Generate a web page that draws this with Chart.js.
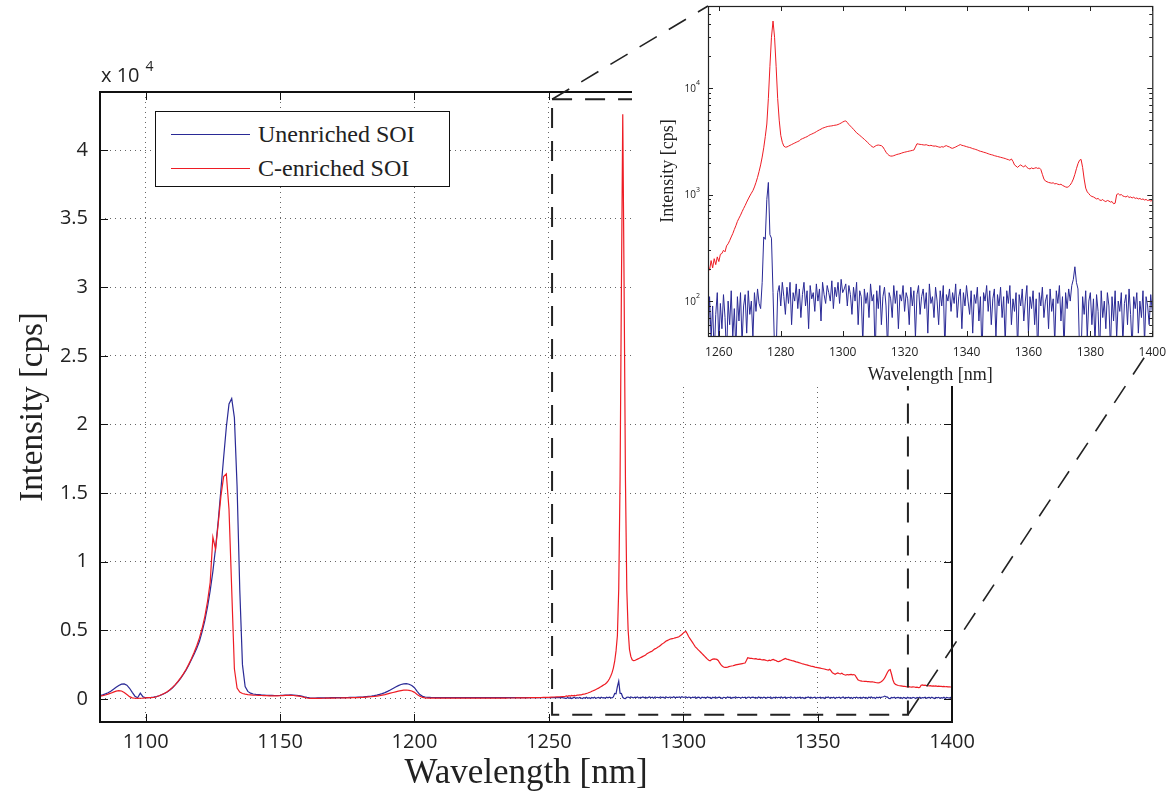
<!DOCTYPE html>
<html>
<head>
<meta charset="utf-8">
<script src="https://cdn.jsdelivr.net/npm/chart.js@4.4.1/dist/chart.umd.min.js"></script>
<style>
  html, body { margin: 0; padding: 0; background: #fff; }
  #wrap { position: relative; width: 1175px; height: 797px; overflow: hidden; }
  #mainCanvas { position: absolute; left: 0; top: 0; }
  #insetBox { position: absolute; left: 632px; top: 0; width: 543px; height: 386px; background: #fff; }
  #overlay { position: absolute; left: 0; top: 0; pointer-events: none; }
  .legend {
    position: absolute; left: 155px; top: 111px; width: 293px; height: 74px;
    border: 1.5px solid #111; background: #fff;
    font-family: "Liberation Serif", "Times New Roman", serif; font-size: 24px; color: #222;
  }
  .legend .row { position: absolute; left: 0; height: 30px; line-height: 30px; }
  .legend .swatch { position: absolute; left: 15px; top: 15px; width: 79px; height: 0; border-top: 1.5px solid; }
  .legend .txt { position: absolute; left: 102px; top: 0; white-space: nowrap; }
</style>
</head>
<body>
<div id="wrap">
  <canvas id="mainCanvas" width="1175" height="797"></canvas>
  <div class="legend">
    <div class="row" style="top:7px"><span class="swatch" style="border-color:#2a2a96"></span><span class="txt">Unenriched SOI</span></div>
    <div class="row" style="top:41px"><span class="swatch" style="border-color:#ee1c24"></span><span class="txt">C-enriched SOI</span></div>
  </div>
  <div id="insetBox"><canvas id="insetCanvas" width="543" height="386"></canvas></div>
  <svg id="overlay" width="1175" height="797"></svg>
</div>
<script>
// Spectra, sampled on the spectrometer grid.
// Low range: 1083..1255 nm every 1 nm (main plot only)
const lowStart = 1083, lowStep = 1;
const blueLow = [
  250, 300, 370, 450, 560, 700, 850, 980, 1080, 1100,
  1000, 780, 480, 200, 90, 420, 150, 90, 100, 110,
  130, 170, 230, 310, 400, 510, 650, 820, 1020, 1250,
  1500, 1780, 2100, 2450, 2850, 3250, 3700, 4200, 4900, 5700,
  6700, 7900, 9300, 11000, 13000, 15300, 17600, 19800, 21500, 21900,
  20500, 15500, 8000, 2500, 900, 550, 420, 360, 330, 310,
  290, 280, 270, 260, 255, 250, 250, 255, 265, 275,
  285, 290, 285, 270, 240, 200, 150, 110, 80, 70,
  70, 75, 80, 80, 85, 85, 90, 90, 95, 95,
  100, 100, 105, 110, 115, 120, 130, 140, 150, 170,
  190, 210, 240, 280, 330, 390, 460, 550, 650, 760,
  870, 970, 1050, 1100, 1110, 1070, 980, 820, 560, 320,
  190, 140, 120, 110, 105, 100, 100, 100, 95, 95,
  95, 95, 95, 95, 90, 90, 90, 90, 90, 90,
  90, 90, 90, 90, 90, 90, 90, 90, 90, 90,
  90, 90, 90, 90, 90, 90, 90, 90, 90, 90,
  90, 90, 90, 90, 90, 90, 90, 90, 90, 90,
  90, 90, 90
];
const redLow = [
  200, 240, 290, 350, 420, 500, 570, 610, 580, 470,
  320, 170, 80, 50, 40, 50, 60, 80, 90, 100,
  120, 160, 230, 320, 420, 530, 670, 840, 1040, 1280,
  1540, 1830, 2150, 2520, 2930, 3380, 3880, 4450, 5150, 6000,
  7100, 8500, 11800, 10900, 12800, 14800, 16200, 16400, 13800, 8000,
  2200, 800, 500, 400, 350, 320, 300, 280, 270, 260,
  250, 240, 235, 230, 225, 225, 230, 235, 245, 255,
  260, 260, 250, 230, 200, 160, 110, 70, 45, 35,
  35, 40, 45, 50, 55, 60, 60, 65, 70, 70,
  75, 75, 80, 85, 90, 95, 100, 110, 120, 135,
  150, 165, 185, 210, 240, 280, 320, 370, 420, 470,
  520, 570, 610, 640, 650, 630, 580, 480, 330, 200,
  120, 80, 65, 60, 55, 55, 55, 55, 55, 55,
  55, 55, 55, 55, 55, 55, 55, 55, 55, 55,
  55, 55, 55, 60, 60, 60, 60, 60, 65, 65,
  65, 65, 70, 70, 70, 75, 75, 80, 80, 85,
  90, 90, 95, 100, 105, 110, 115, 120, 130, 140,
  150, 160, 175
];

// High range: 1256..1400 nm every 0.5 nm (main plot and inset)
const highStart = 1256, highStep = 0.5;
const blueHigh = [
  60, 35, 110, 45, 90, 30, 75, 120, 40, 95,
  55, 115, 70, 30, 100, 60, 125, 45, 85, 35,
  110, 65, 120, 40, 90, 115, 50, 125, 75, 100,
  45, 120, 80, 130, 95, 85, 150, 400, 380, 900,
  1300, 420, 390, 120, 35, 30, 120, 140, 90, 150,
  110, 75, 135, 95, 150, 60, 120, 100, 145, 85,
  130, 70, 115, 150, 90, 125, 55, 140, 105, 120,
  80, 145, 100, 130, 65, 150, 115, 95, 140, 120,
  100, 155, 85, 135, 110, 150, 95, 160, 120, 130,
  145, 90, 140, 115, 75, 135, 100, 150, 60, 125,
  110, 40, 130, 95, 120, 70, 145, 100, 115, 30,
  125, 85, 140, 60, 110, 135, 90, 35, 120, 105,
  70, 140, 95, 125, 55, 115, 100, 140, 80, 120,
  105, 60, 135, 90, 125, 45, 115, 140, 75, 110,
  130, 85, 120, 50, 145, 95, 110, 70, 135, 100,
  60, 125, 90, 140, 35, 115, 100, 130, 80, 120,
  95, 145, 70, 110, 130, 55, 120, 90, 140, 100,
  75, 125, 50, 115, 95, 135, 65, 110, 30, 120,
  100, 140, 80, 125, 60, 105, 130, 45, 115, 90,
  135, 70, 110, 40, 125, 95, 140, 60, 105, 80,
  120, 35, 115, 90, 130, 65, 100, 140, 50, 110,
  85, 125, 60, 105, 30, 120, 90, 135, 70, 100,
  115, 55, 130, 80, 105, 40, 125, 95, 140, 65,
  110, 35, 120, 85, 130, 100, 140, 160, 210, 150,
  130, 35, 30, 110, 75, 125, 45, 100, 120, 60,
  105, 40, 115, 80, 30, 125, 70, 100, 55, 120,
  90, 35, 110, 65, 125, 45, 100, 80, 120, 40,
  95, 115, 60, 130, 75, 35, 110, 85, 120, 50,
  100, 70, 125, 40, 110, 90, 60, 115, 80
];
const redHigh = [
  180, 215, 195, 240, 205, 250, 220, 260, 235, 275,
  280, 300, 290, 330, 345, 370, 400, 430, 470, 510,
  560, 600, 640, 690, 740, 790, 850, 910, 970, 1030,
  1090, 1180, 1300, 1450, 1650, 1900, 2250, 2750, 3500, 4600,
  8000, 16000, 30000, 42600, 30000, 16000, 8000, 5000, 3600, 3100,
  2850, 2790, 2800, 2850, 2900, 2950, 3000, 3050, 3100, 3150,
  3200, 3300, 3350, 3400, 3450, 3500, 3580, 3650, 3700, 3760,
  3820, 3900, 3980, 4050, 4120, 4200, 4250, 4300, 4350, 4380,
  4400, 4420, 4450, 4480, 4500, 4550, 4620, 4700, 4800, 4880,
  4920, 4750, 4550, 4400, 4250, 4100, 3950, 3800, 3700, 3600,
  3500, 3400, 3300, 3200, 3100, 3000, 2900, 2820, 2780, 2850,
  2900, 2920, 2900, 2880, 2800, 2650, 2500, 2400, 2330, 2300,
  2300, 2320, 2350, 2380, 2400, 2420, 2450, 2480, 2500, 2520,
  2540, 2560, 2580, 2600, 2620, 2800, 3000, 2980, 2960, 2950,
  2930, 2920, 2940, 2900, 2880, 2900, 2870, 2850, 2860, 2830,
  2800, 2780, 2820, 2790, 2850, 2880, 2830, 2800, 2740, 2720,
  2760, 2800, 2850, 2900, 2950, 2900, 2880, 2850, 2820, 2790,
  2770, 2740, 2700, 2680, 2650, 2620, 2580, 2550, 2530, 2500,
  2480, 2450, 2420, 2390, 2370, 2350, 2320, 2300, 2280, 2260,
  2240, 2220, 2200, 2180, 2150, 2130, 2100, 2160, 2050, 1900,
  1850, 1800, 1860, 1900, 1850, 1820, 1880, 1800, 1760, 1740,
  1780, 1750, 1770, 1790, 1760, 1780, 1720, 1550, 1400, 1340,
  1320, 1300, 1290, 1280, 1290, 1260, 1270, 1250, 1240, 1250,
  1220, 1200, 1180, 1170, 1190, 1230, 1300, 1400, 1550, 1750,
  1950, 2100, 2140, 1800, 1400, 1150, 1060, 1020, 980, 960,
  950, 930, 910, 920, 890, 880, 900, 870, 860, 880,
  870, 850, 860, 820, 830, 1000, 1020, 990, 1000, 970,
  960, 950, 970, 940, 950, 930, 945, 920, 930, 910,
  920, 900, 910, 890, 900, 880, 890, 870, 880
];

// Axis ticks
const mainXTicks = [1100, 1150, 1200, 1250, 1300, 1350, 1400];
const mainYTicks = [0, 5000, 10000, 15000, 20000, 25000, 30000, 35000, 40000];
const insetXTicks = [1260, 1280, 1300, 1320, 1340, 1360, 1380, 1400];
const insetYTicks = [100, 1000, 10000];

// Zoomed region marked on the main plot
const zoomBox = { x0: 1251.2, x1: 1383.6, y0: -1150, y1: 43700 };

const blueColor = '#2a2a96';
const redColor = '#ee1c24';

function toPoints(start, step, values) {
  return values.map((v, i) => ({ x: start + i * step, y: v }));
}
const bluePtsLow = toPoints(lowStart, lowStep, blueLow);
const redPtsLow = toPoints(lowStart, lowStep, redLow);
const bluePtsHigh = toPoints(highStart, highStep, blueHigh);
const redPtsHigh = toPoints(highStart, highStep, redHigh);

// frame, inside ticks, zoom box, exponent label
const mainDecor = {
  id: 'mainDecor',
  afterDraw(chart) {
    const { ctx, chartArea: a, scales: { x, y } } = chart;
    ctx.save();
    // dashed zoom box
    ctx.strokeStyle = '#222';
    ctx.lineWidth = 2;
    ctx.setLineDash([20, 13]);
    const bx0 = x.getPixelForValue(zoomBox.x0), bx1 = x.getPixelForValue(zoomBox.x1);
    const by0 = y.getPixelForValue(zoomBox.y0), by1 = y.getPixelForValue(zoomBox.y1);
    ctx.strokeRect(bx0, by1, bx1 - bx0, by0 - by1);
    ctx.setLineDash([]);

    // inside ticks
    ctx.strokeStyle = '#111';
    ctx.lineWidth = 1;
    ctx.beginPath();
    mainXTicks.forEach(v => {
      const px = Math.round(x.getPixelForValue(v)) + 0.5;
      ctx.moveTo(px, a.bottom); ctx.lineTo(px, a.bottom - 8);
      ctx.moveTo(px, a.top); ctx.lineTo(px, a.top + 8);
    });
    mainYTicks.forEach(v => {
      const py = Math.round(y.getPixelForValue(v)) + 0.5;
      ctx.moveTo(a.left, py); ctx.lineTo(a.left + 8, py);
      ctx.moveTo(a.right, py); ctx.lineTo(a.right - 8, py);
    });
    ctx.stroke();

    // frame
    ctx.lineWidth = 2;
    ctx.strokeRect(a.left, a.top, a.right - a.left, a.bottom - a.top);

    // x 10^4
    ctx.fillStyle = '#222';
    ctx.textBaseline = 'alphabetic';
    ctx.textAlign = 'left';
    ctx.font = '20px "Open Sans"';
    ctx.fillText('x 10', a.left + 1, 82);
    const w = ctx.measureText('x 10').width;
    ctx.font = '14px "Open Sans"';
    ctx.fillText('4', a.left + 1 + w + 6, 71);
    ctx.restore();
  }
};

const mainChart = new Chart(document.getElementById('mainCanvas'), {
  type: 'line',
  data: {
    datasets: [
      { label: 'Unenriched SOI', data: bluePtsLow.concat(bluePtsHigh), borderColor: blueColor, borderWidth: 1.2, pointRadius: 0, order: 1 },
      { label: 'C-enriched SOI', data: redPtsLow.concat(redPtsHigh), borderColor: redColor, borderWidth: 1.2, pointRadius: 0, order: 0 }
    ]
  },
  options: {
    responsive: false,
    animation: false,
    devicePixelRatio: 1,
    layout: { padding: { top: 92, right: 223, left: 0, bottom: 0 } },
    plugins: { legend: { display: false }, tooltip: { enabled: false } },
    scales: {
      x: {
        type: 'linear', min: 1083, max: 1400,
        afterBuildTicks: s => { s.ticks = mainXTicks.map(v => ({ value: v })); },
        afterFit: s => { s.height = 75; },
        grid: { color: 'rgba(0,0,0,0.6)', lineWidth: 1, drawTicks: false },
        border: { display: false, dash: [1, 4] },
        ticks: { color: '#222', font: { family: '"Open Sans"', size: 20 }, padding: 8, maxRotation: 0, callback: v => String(v) },
        title: { display: true, text: 'Wavelength [nm]', color: '#222', font: { family: '"Liberation Serif"', size: 35 }, padding: { top: 0, bottom: 2 } }
      },
      y: {
        min: -1680, max: 44230,
        afterBuildTicks: s => { s.ticks = mainYTicks.map(v => ({ value: v })); },
        afterFit: s => { s.width = 100; },
        grid: { color: 'rgba(0,0,0,0.6)', lineWidth: 1, drawTicks: false },
        border: { display: false, dash: [1, 4] },
        ticks: { color: '#222', font: { family: '"Open Sans"', size: 20 }, padding: 12, callback: v => String(v / 10000) },
        title: { display: true, text: 'Intensity [cps]', color: '#222', font: { family: '"Liberation Serif"', size: 33 }, padding: { top: 14, bottom: 0 } }
      }
    }
  },
  plugins: [mainDecor]
});

// inset: frame, log ticks, 10^n labels
const insetDecor = {
  id: 'insetDecor',
  afterDraw(chart) {
    const { ctx, chartArea: a, scales: { x, y } } = chart;
    ctx.save();
    ctx.strokeStyle = '#222';
    ctx.lineWidth = 1;
    ctx.beginPath();
    insetXTicks.forEach(v => {
      const px = Math.round(x.getPixelForValue(v)) + 0.5;
      ctx.moveTo(px, a.bottom); ctx.lineTo(px, a.bottom - 5);
      ctx.moveTo(px, a.top); ctx.lineTo(px, a.top + 5);
    });
    for (let e = 1; e <= 4; e++) {
      for (let m = 1; m <= 9; m++) {
        const v = m * Math.pow(10, e);
        if (v < y.min || v > y.max) continue;
        const py = Math.round(y.getPixelForValue(v)) + 0.5;
        const len = m === 1 ? 5 : 3;
        ctx.moveTo(a.left, py); ctx.lineTo(a.left + len, py);
        ctx.moveTo(a.right, py); ctx.lineTo(a.right - len, py);
      }
    }
    ctx.stroke();
    ctx.lineWidth = 1.2;
    ctx.strokeRect(a.left + 0.5, a.top + 0.5, a.right - a.left, a.bottom - a.top);

    ctx.fillStyle = '#222';
    ctx.textAlign = 'right';
    ctx.textBaseline = 'middle';
    insetYTicks.forEach(v => {
      const py = y.getPixelForValue(v);
      const exp = String(Math.round(Math.log10(v)));
      ctx.font = '7px "Open Sans"';
      const ew = ctx.measureText(exp).width;
      ctx.fillText(exp, a.left - 8, py - 5);
      ctx.font = '10px "Open Sans"';
      ctx.fillText('10', a.left - 8 - ew, py + 1);
    });
    ctx.restore();
  }
};

const insetChart = new Chart(document.getElementById('insetCanvas'), {
  type: 'line',
  data: {
    datasets: [
      { label: 'Unenriched SOI', data: bluePtsHigh, borderColor: blueColor, borderWidth: 1, pointRadius: 0 },
      { label: 'C-enriched SOI', data: redPtsHigh, borderColor: redColor, borderWidth: 1, pointRadius: 0 }
    ]
  },
  options: {
    responsive: false,
    animation: false,
    devicePixelRatio: 1,
    layout: { padding: { top: 6, right: 20, left: 0, bottom: 0 } },
    plugins: { legend: { display: false }, tooltip: { enabled: false } },
    scales: {
      x: {
        type: 'linear', min: 1256.5, max: 1400,
        afterBuildTicks: s => { s.ticks = insetXTicks.map(v => ({ value: v })); },
        afterFit: s => { s.height = 50; },
        grid: { display: false, drawTicks: false },
        border: { display: false },
        ticks: { color: '#222', font: { family: '"Open Sans"', size: 12 }, padding: 9, maxRotation: 0, callback: v => String(v) },
        title: { display: true, text: 'Wavelength [nm]', color: '#222', font: { family: '"Liberation Serif"', size: 18 }, padding: { top: 0, bottom: 0 } }
      },
      y: {
        type: 'logarithmic', min: 47, max: 59000,
        afterFit: s => { s.width = 76; },
        grid: { display: false, drawTicks: false },
        border: { display: false },
        ticks: { display: false },
        title: { display: true, text: 'Intensity [cps]', color: '#222', font: { family: '"Liberation Serif"', size: 18 }, padding: { top: 25, bottom: 0 } }
      }
    }
  },
  plugins: [insetDecor]
});

// dashed lines joining the zoom box to the inset
(function drawLinks() {
  const svg = document.getElementById('overlay');
  const mx = mainChart.scales.x, my = mainChart.scales.y;
  const ia = insetChart.chartArea;
  const box = document.getElementById('insetBox');
  const ox = box.offsetLeft, oy = box.offsetTop;
  const links = [
    [mx.getPixelForValue(zoomBox.x0), my.getPixelForValue(zoomBox.y1), ox + ia.left, oy + ia.top],
    [mx.getPixelForValue(zoomBox.x1), my.getPixelForValue(zoomBox.y0), ox + ia.right - 3, oy + ia.bottom + 14]
  ];
  links.forEach(([x1, y1, x2, y2]) => {
    const l = document.createElementNS('http://www.w3.org/2000/svg', 'line');
    l.setAttribute('x1', x1); l.setAttribute('y1', y1);
    l.setAttribute('x2', x2); l.setAttribute('y2', y2);
    l.setAttribute('stroke', '#222');
    l.setAttribute('stroke-width', '1.6');
    l.setAttribute('stroke-dasharray', '20 14');
    svg.appendChild(l);
  });
})();
</script>
</body>
</html>
